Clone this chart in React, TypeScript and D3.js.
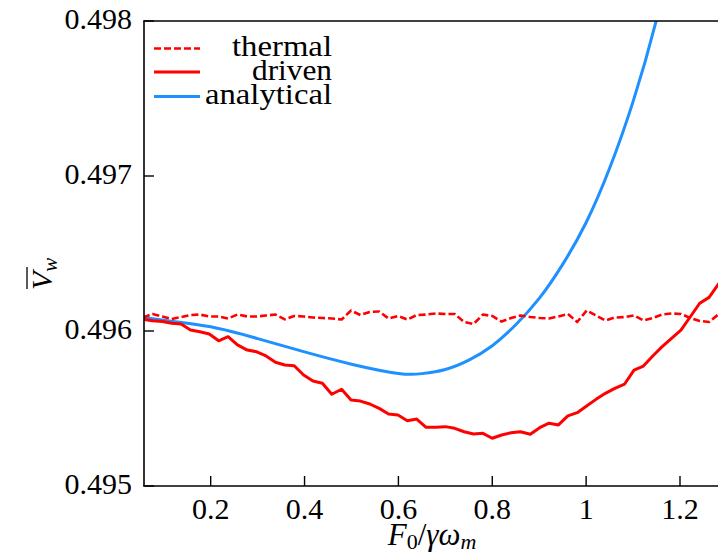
import React from "react";
import * as d3 from "d3";

// x values (F0 / gamma omega_m) shared by the simulated series
const F = [0.056, 0.076, 0.097, 0.117, 0.137, 0.157, 0.177, 0.197, 0.217, 0.237, 0.257, 0.278, 0.298, 0.318, 0.338, 0.358, 0.378, 0.398, 0.418, 0.438, 0.458, 0.479, 0.499, 0.519, 0.539, 0.559, 0.579, 0.599, 0.619, 0.639, 0.659, 0.680, 0.700, 0.720, 0.740, 0.760, 0.780, 0.800, 0.820, 0.840, 0.860, 0.881, 0.901, 0.921, 0.941, 0.961, 0.981, 1.001, 1.021, 1.041, 1.061, 1.082, 1.102, 1.122, 1.142, 1.162, 1.182, 1.202, 1.222, 1.242, 1.262, 1.283];

const thermal = [
  0.496087, 0.496110, 0.496094, 0.496077, 0.496090, 0.496103, 0.496106, 0.496094, 0.496094, 0.496081,
  0.496106, 0.496094, 0.496094, 0.496100, 0.496106, 0.496075, 0.496097, 0.496094, 0.496087, 0.496084,
  0.496081, 0.496074, 0.496132, 0.496103, 0.496123, 0.496126, 0.496081, 0.496097, 0.496074, 0.496103,
  0.496106, 0.496113, 0.496110, 0.496110, 0.496058, 0.496045, 0.496106, 0.496097, 0.496061, 0.496084,
  0.496100, 0.496090, 0.496084, 0.496081, 0.496094, 0.496110, 0.496058, 0.496132, 0.496100, 0.496068,
  0.496087, 0.496090, 0.496100, 0.496068, 0.496084, 0.496106, 0.496113, 0.496110, 0.496084, 0.496065,
  0.496058, 0.496110,
];

const driven = [
  0.496075, 0.496066, 0.496061, 0.496050, 0.496045, 0.496006, 0.495995, 0.495981, 0.495937, 0.495963,
  0.495910, 0.495877, 0.495866, 0.495839, 0.495798, 0.495781, 0.495776, 0.495716, 0.495677, 0.495663,
  0.495592, 0.495624, 0.495555, 0.495548, 0.495529, 0.495501, 0.495465, 0.495458, 0.495421, 0.495432,
  0.495379, 0.495379, 0.495383, 0.495372, 0.495350, 0.495335, 0.495340, 0.495308, 0.495329, 0.495344,
  0.495350, 0.495334, 0.495376, 0.495405, 0.495394, 0.495452, 0.495473, 0.495516, 0.495559, 0.495598,
  0.495630, 0.495658, 0.495748, 0.495774, 0.495839, 0.495899, 0.495953, 0.496006, 0.496092, 0.496179,
  0.496217, 0.496308,
];

// analytical curve samples
const FA = [0.056, 0.12, 0.2, 0.3, 0.4, 0.5, 0.6, 0.65, 0.7, 0.75, 0.8, 0.85, 0.9, 0.95, 1.0, 1.05, 1.1, 1.15, 1.2];
const VA = [0.496088, 0.496062, 0.496027, 0.495951, 0.495865, 0.495786, 0.495726, 0.495725, 0.495752, 0.495812, 0.495905, 0.496040, 0.496210, 0.496430, 0.496700, 0.497050, 0.497480, 0.498010, 0.49866];

const xTicks = [0.2, 0.4, 0.6, 0.8, 1.0, 1.2];
const xTickLabels = ["0.2", "0.4", "0.6", "0.8", "1", "1.2"];
const yTicks = [0.495, 0.496, 0.497, 0.498];
const yTickLabels = ["0.495", "0.496", "0.497", "0.498"];

const legendLabels = ["thermal", "driven", "analytical"];

const W = 718;
const H = 555;
const FONT = "Liberation Serif, DejaVu Serif, Times New Roman, serif";

export default function App() {
  const left = 144, top = 21, bottom = 486;
  const x = d3.scaleLinear().domain([0.0579, 1.3]).range([left, 726.93]);
  const y = d3.scaleLinear().domain([0.495, 0.498]).range([bottom, top]);

  const lineXY = d3.line<[number, number]>().x((d) => x(d[0])).y((d) => y(d[1]));
  const smooth = d3
    .line<[number, number]>()
    .x((d) => x(d[0]))
    .y((d) => y(d[1]))
    .curve(d3.curveNatural);

  const thermalPts = F.map((f, i) => [f, thermal[i]] as [number, number]);
  const drivenPts = F.map((f, i) => [f, driven[i]] as [number, number]);
  const analyticPts = FA.map((f, i) => [f, VA[i]] as [number, number]);

  const red = "#ff0000";
  const blue = "#1e90ff";

  const legY = [48.5, 72, 96.5];
  const legTextW = [100, 80, 127];
  const legStyles = [
    { stroke: red, dash: "7,3" },
    { stroke: red, dash: undefined },
    { stroke: blue, dash: undefined },
  ];

  const txt = { fontFamily: FONT };

  return (
    <svg
      width={W}
      height={H}
      style={{ position: "absolute", left: 0, top: 0, background: "#fff", fontFamily: FONT }}
    >
      <defs>
        <clipPath id="plotclip">
          <rect x={left} y={top} width={W - left + 20} height={bottom - top} />
        </clipPath>
      </defs>

      <g clipPath="url(#plotclip)" fill="none" strokeLinejoin="round">
        <path d={smooth(analyticPts) || ""} stroke={blue} strokeWidth={3} />
        <path d={lineXY(drivenPts) || ""} stroke={red} strokeWidth={3} />
        <path d={lineXY(thermalPts) || ""} stroke={red} strokeWidth={2.6} strokeDasharray="7,3" />
      </g>

      {/* spines */}
      <line x1={left} x2={left} y1={top} y2={bottom} stroke="#000" strokeWidth={1.6} />
      <line x1={left - 0.8} x2={W} y1={top} y2={top} stroke="#000" strokeWidth={1.6} />
      <line x1={left - 0.8} x2={W} y1={bottom} y2={bottom} stroke="#000" strokeWidth={1.6} />

      {/* x ticks */}
      {xTicks.map((t, i) => (
        <g key={"xt" + i}>
          <line x1={x(t)} x2={x(t)} y1={bottom} y2={bottom - 10} stroke="#000" strokeWidth={1.4} />
          <text x={x(t)} y={519} fontSize={30} textAnchor="middle" fill="#000" style={txt}>
            {xTickLabels[i]}
          </text>
        </g>
      ))}

      {/* y ticks */}
      {yTicks.map((t, i) => (
        <g key={"yt" + i}>
          <line x1={left} x2={left + 10} y1={y(t)} y2={y(t)} stroke="#000" strokeWidth={1.4} />
          <text x={132} y={y(t) + 7.5} fontSize={30} textAnchor="end" fill="#000" style={txt}>
            {yTickLabels[i]}
          </text>
        </g>
      ))}

      {/* x label */}
      <text x={432} y={545} fontSize={31} textAnchor="middle" fill="#000" style={txt}>
        <tspan fontStyle="italic">F</tspan>
        <tspan fontSize={22} dy={4}>0</tspan>
        <tspan dy={-4}>/</tspan>
        <tspan fontStyle="italic">γω</tspan>
        <tspan fontStyle="italic" fontSize={22} dy={4}>m</tspan>
      </text>

      {/* y label */}
      <g transform="translate(52,290) rotate(-90)">
        <text x={0} y={0} fontSize={30} fill="#000" style={txt}>
          <tspan fontStyle="italic">V</tspan>
          <tspan fontStyle="italic" fontSize={21} dy={5}>w</tspan>
        </text>
        <line x1={1} x2={23} y1={-25} y2={-25} stroke="#000" strokeWidth={1.3} />
      </g>

      {/* legend */}
      {legendLabels.map((lab, i) => (
        <g key={"lg" + i}>
          <line
            x1={154}
            x2={200}
            y1={legY[i]}
            y2={legY[i]}
            stroke={legStyles[i].stroke}
            strokeWidth={i === 0 ? 2.6 : 3}
            strokeDasharray={legStyles[i].dash}
          />
          <text
            x={332}
            y={legY[i] + 7.5}
            fontSize={30}
            textAnchor="end"
            fill="#000"
            style={txt}
            textLength={legTextW[i]}
            lengthAdjust="spacingAndGlyphs"
          >
            {lab}
          </text>
        </g>
      ))}
    </svg>
  );
}
